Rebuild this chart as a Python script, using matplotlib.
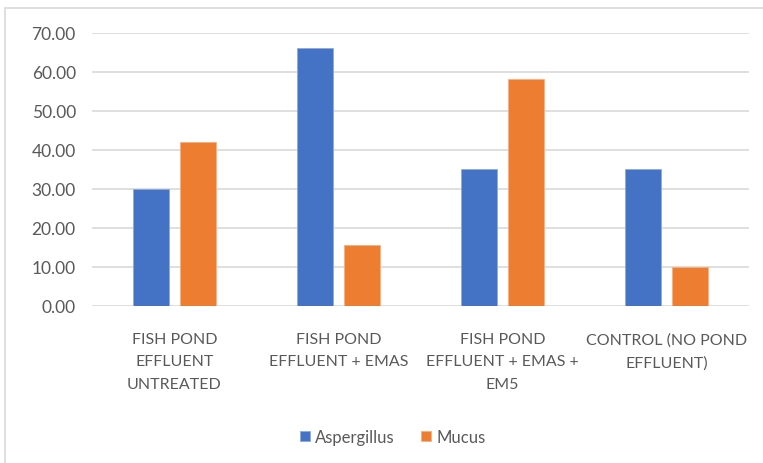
import numpy as np
import matplotlib.pyplot as plt
from matplotlib.patches import Rectangle

# Data
categories = ['FISH POND\nEFFLUENT\nUNTREATED',
              'FISH POND\nEFFLUENT + EMAS',
              'FISH POND\nEFFLUENT + EMAS +\nEM5',
              'CONTROL (NO POND\nEFFLUENT)']
aspergillus = [30.0, 66.0, 35.0, 35.0]
mucus = [42.0, 15.5, 58.0, 10.0]
yticks = [0, 10, 20, 30, 40, 50, 60, 70]

blue = '#4472C4'
orange = '#ED7D31'
text_color = '#595959'
grid_color = '#D9D9D9'

plt.rcParams['font.family'] = ['Lato', 'DejaVu Sans']

fig = plt.figure(figsize=(7.63, 4.64), dpi=100)
ax = fig.add_axes([0.1212, 0.339, 0.8598, 0.5884])

x = np.arange(len(categories))
w = 0.22
off = 0.1435
ax.bar(x - off, aspergillus, w, color=blue, edgecolor='#8FAADC', linewidth=0.6,
       label='Aspergillus', zorder=3)
ax.bar(x + off, mucus, w, color=orange, edgecolor='#F4B183', linewidth=0.6,
       label='Mucus', zorder=3)

ax.set_xlim(-0.5, len(categories) - 0.5)
ax.set_ylim(0, 70)
ax.set_yticks(yticks)
ax.set_yticklabels([f'{v:.2f}' for v in yticks], fontsize=12.5, color=text_color)
ax.set_xticks(x)
ax.set_xticklabels(categories, fontsize=11.5, color=text_color, linespacing=1.75)
ax.tick_params(axis='both', length=0)
ax.tick_params(axis='x', pad=19)
ax.tick_params(axis='y', pad=12)
ax.yaxis.grid(True, color=grid_color, linewidth=1.2, zorder=0)
for s in ax.spines.values():
    s.set_visible(False)

leg = fig.legend(loc='center', bbox_to_anchor=(0.515, 0.056), ncol=2, frameon=False,
                 fontsize=12, handlelength=0.6, handleheight=0.6, handletextpad=0.3,
                 columnspacing=1.6)
for t in leg.get_texts():
    t.set_color(text_color)

# chart border (only left and top visible in the crop)
fig.patches.append(Rectangle((5 / 763, -0.05), 1.1, 1 - 9 / 464 + 0.05,
                             transform=fig.transFigure, fill=False,
                             edgecolor='#D9D9D9', linewidth=1.2))

fig.savefig('out.png', dpi=100)
